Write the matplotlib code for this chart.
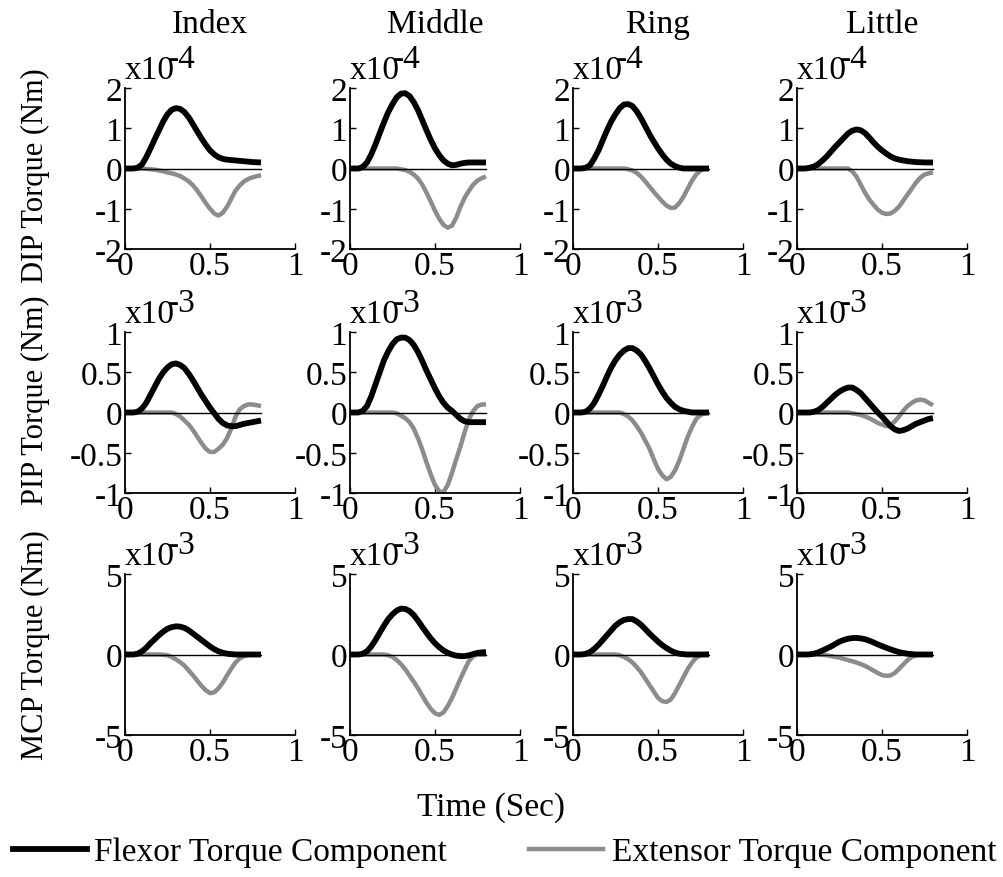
import matplotlib.pyplot as plt

plt.rcParams['font.family'] = 'Liberation Serif'
plt.rcParams['axes.unicode_minus'] = False

# time samples (sec)
time = [0, 0.025, 0.05, 0.075, 0.1, 0.125, 0.15, 0.175, 0.2, 0.225, 0.25, 0.275, 0.3,
        0.325, 0.35, 0.375, 0.4, 0.425, 0.45, 0.475, 0.5, 0.525, 0.55, 0.575, 0.6,
        0.625, 0.65, 0.675, 0.7, 0.725, 0.75, 0.775, 0.8]

fingers = ['Index', 'Middle', 'Ring', 'Little']
joints = ['DIP', 'PIP', 'MCP']
exponents = ['-4', '-3', '-3']
ylims = [2, 1, 5]
yticks = [[-2, -1, 0, 1, 2], [-1, -0.5, 0, 0.5, 1], [-5, 0, 5]]
ytick_labels = [['-2', '-1', '0', '1', '2'], ['-1', '-0.5', '0', '0.5', '1'], ['-5', '0', '5']]
xticks = [0, 0.5, 1]
xtick_labels = ['0', '0.5', '1']

# values in units of x10^-4 Nm (DIP) and x10^-3 Nm (PIP, MCP)
dip_flexor = [
    [0, 0, 0, 0.02, 0.1, 0.28, 0.5, 0.73, 0.95, 1.17, 1.35, 1.46, 1.5, 1.48, 1.4, 1.27, 1.1,
     0.92, 0.75, 0.59, 0.45, 0.35, 0.28, 0.24, 0.22, 0.21, 0.2, 0.19, 0.18, 0.17, 0.16, 0.155, 0.15],
    [0, 0, 0, 0.04, 0.15, 0.35, 0.6, 0.88, 1.15, 1.4, 1.6, 1.77, 1.86, 1.87, 1.8, 1.65, 1.45,
     1.2, 0.95, 0.71, 0.5, 0.33, 0.2, 0.12, 0.08, 0.09, 0.12, 0.14, 0.15, 0.15, 0.15, 0.15, 0.15],
    [0, 0, 0, 0.02, 0.08, 0.25, 0.45, 0.7, 0.95, 1.17, 1.35, 1.5, 1.59, 1.6, 1.55, 1.42, 1.25,
     1.05, 0.85, 0.67, 0.5, 0.35, 0.22, 0.12, 0.06, 0.02, 0, 0, 0, 0, 0, 0, 0],
    [0, 0, 0, 0.02, 0.05, 0.11, 0.2, 0.3, 0.42, 0.54, 0.65, 0.76, 0.87, 0.94, 0.97, 0.95, 0.88,
     0.77, 0.65, 0.54, 0.45, 0.37, 0.3, 0.25, 0.22, 0.2, 0.18, 0.17, 0.16, 0.155, 0.15, 0.15, 0.15],
]
dip_extensor = [
    [0, 0, 0, 0, 0, -0.01, -0.02, -0.03, -0.05, -0.07, -0.1, -0.12, -0.15, -0.19, -0.25, -0.32,
     -0.42, -0.55, -0.7, -0.86, -1.0, -1.12, -1.17, -1.1, -0.95, -0.75, -0.55, -0.42, -0.32,
     -0.26, -0.22, -0.19, -0.17],
    [0, 0, 0, 0, 0, 0, 0, 0, 0, 0, 0, 0, -0.02, -0.04, -0.08, -0.15, -0.25, -0.4, -0.6, -0.82,
     -1.05, -1.25, -1.4, -1.47, -1.42, -1.22, -0.95, -0.72, -0.55, -0.4, -0.3, -0.24, -0.2],
    [0, 0, 0, 0, 0, 0, 0, 0, 0, 0, 0, 0, 0, -0.02, -0.05, -0.11, -0.2, -0.32, -0.45, -0.58,
     -0.7, -0.82, -0.92, -0.98, -0.97, -0.86, -0.7, -0.5, -0.3, -0.15, -0.05, -0.01, 0],
    [0, 0, 0, 0, 0, 0, 0, 0, 0, 0, 0, 0, 0, -0.07, -0.2, -0.4, -0.6, -0.77, -0.9, -1.02, -1.1,
     -1.13, -1.12, -1.05, -0.95, -0.8, -0.65, -0.5, -0.35, -0.23, -0.15, -0.12, -0.1],
]
pip_flexor = [
    [0, 0, 0, 0.01, 0.05, 0.12, 0.22, 0.32, 0.42, 0.5, 0.56, 0.6, 0.61, 0.59, 0.55, 0.48, 0.4,
     0.31, 0.22, 0.14, 0.06, -0.01, -0.08, -0.13, -0.16, -0.17, -0.17, -0.155, -0.14, -0.13,
     -0.12, -0.11, -0.1],
    [0, 0, 0, 0.02, 0.08, 0.2, 0.35, 0.5, 0.65, 0.76, 0.85, 0.91, 0.93, 0.93, 0.9, 0.84, 0.75,
     0.64, 0.52, 0.41, 0.3, 0.2, 0.12, 0.06, 0.02, -0.03, -0.08, -0.11, -0.12, -0.12, -0.12,
     -0.12, -0.12],
    [0, 0, 0, 0.01, 0.05, 0.12, 0.22, 0.33, 0.45, 0.56, 0.65, 0.72, 0.77, 0.8, 0.8, 0.77, 0.72,
     0.64, 0.55, 0.45, 0.35, 0.26, 0.18, 0.12, 0.07, 0.04, 0.02, 0.01, 0, 0, 0, 0, 0],
    [0, 0, 0, 0, 0.01, 0.03, 0.07, 0.12, 0.17, 0.22, 0.26, 0.29, 0.31, 0.31, 0.28, 0.24, 0.18,
     0.12, 0.06, 0, -0.05, -0.11, -0.17, -0.21, -0.23, -0.22, -0.2, -0.17, -0.14, -0.12, -0.1,
     -0.08, -0.07],
]
pip_extensor = [
    [0, 0, 0, 0, 0, 0, 0, 0, 0, 0, 0, 0, -0.02, -0.05, -0.1, -0.15, -0.22, -0.3, -0.38, -0.45,
     -0.49, -0.49, -0.45, -0.4, -0.32, -0.2, -0.05, 0.04, 0.08, 0.1, 0.1, 0.09, 0.08],
    [0, 0, 0, 0, 0, 0, 0, 0, 0, 0, 0, -0.01, -0.04, -0.07, -0.12, -0.2, -0.32, -0.46, -0.62,
     -0.77, -0.9, -0.98, -0.99, -0.9, -0.75, -0.58, -0.42, -0.24, -0.08, 0.02, 0.08, 0.1, 0.1],
    [0, 0, 0, 0, 0, 0, 0, 0, 0, 0, 0, 0, -0.02, -0.05, -0.1, -0.17, -0.25, -0.35, -0.45, -0.58,
     -0.7, -0.78, -0.83, -0.8, -0.72, -0.6, -0.45, -0.3, -0.18, -0.08, -0.03, -0.01, 0],
    [0, 0, 0, 0, 0, 0, 0, 0, 0, 0, 0, 0, 0, -0.01, -0.02, -0.03, -0.05, -0.07, -0.1, -0.13,
     -0.15, -0.17, -0.16, -0.11, -0.05, 0.02, 0.08, 0.12, 0.15, 0.16, 0.15, 0.12, 0.09],
]
mcp_flexor = [
    [0, 0, 0, 0.05, 0.2, 0.42, 0.7, 0.95, 1.2, 1.42, 1.6, 1.7, 1.75, 1.73, 1.65, 1.5, 1.3, 1.1,
     0.9, 0.7, 0.5, 0.33, 0.2, 0.11, 0.05, 0.02, 0, 0, 0, 0, 0, 0, 0],
    [0, 0, 0, 0.05, 0.2, 0.5, 0.9, 1.35, 1.8, 2.2, 2.5, 2.73, 2.85, 2.83, 2.7, 2.45, 2.1, 1.72,
     1.35, 1.0, 0.7, 0.45, 0.25, 0.1, 0, -0.07, -0.1, -0.1, -0.05, 0.03, 0.1, 0.13, 0.15],
    [0, 0, 0, 0.04, 0.15, 0.35, 0.6, 0.9, 1.2, 1.5, 1.8, 2.0, 2.15, 2.2, 2.2, 2.05, 1.85, 1.58,
     1.3, 1.05, 0.8, 0.58, 0.4, 0.24, 0.12, 0.05, 0.02, 0, 0, 0, 0, 0, 0],
    [0, 0, 0, 0.01, 0.05, 0.13, 0.25, 0.37, 0.5, 0.65, 0.8, 0.9, 0.98, 1.02, 1.03, 1.0, 0.95,
     0.86, 0.75, 0.63, 0.52, 0.42, 0.32, 0.23, 0.15, 0.09, 0.05, 0.02, 0, 0, 0, 0, 0],
]
mcp_extensor = [
    [0, 0, 0, 0, 0, 0, 0, 0, 0, -0.02, -0.05, -0.15, -0.3, -0.48, -0.7, -1.0, -1.3, -1.62,
     -1.95, -2.22, -2.4, -2.35, -2.1, -1.75, -1.3, -0.88, -0.5, -0.25, -0.1, -0.03, 0, 0, 0],
    [0, 0, 0, 0, 0, 0, 0, 0, 0, -0.05, -0.15, -0.35, -0.6, -0.92, -1.3, -1.7, -2.1, -2.55,
     -3.0, -3.38, -3.65, -3.75, -3.6, -3.2, -2.7, -2.1, -1.5, -0.92, -0.4, -0.1, 0, 0, 0],
    [0, 0, 0, 0, 0, 0, 0, 0, 0, 0, 0, -0.05, -0.15, -0.3, -0.5, -0.78, -1.1, -1.5, -1.9, -2.3,
     -2.7, -2.9, -2.95, -2.8, -2.4, -1.9, -1.4, -0.9, -0.5, -0.2, -0.05, 0.03, 0.05],
    [0, 0, 0, 0, 0, -0.01, -0.02, -0.05, -0.1, -0.15, -0.2, -0.27, -0.35, -0.42, -0.5, -0.6,
     -0.7, -0.85, -1.0, -1.15, -1.28, -1.32, -1.3, -1.15, -0.9, -0.62, -0.35, -0.15, -0.05, 0,
     0, 0, 0],
]

flexor = [dip_flexor, pip_flexor, mcp_flexor]
extensor = [dip_extensor, pip_extensor, mcp_extensor]

W, H = 1004, 878
fig = plt.figure(figsize=(W / 100, H / 100), dpi=100)

col_left = [125, 350, 573, 797]
row_top = [89, 333, 575]
ax_w, ax_h = 170, 161
fs = 24
grey = '#8c8c8c'

for r in range(3):
    for c in range(4):
        ax = fig.add_axes([col_left[c] / W, 1 - (row_top[r] + ax_h) / H, ax_w / W, ax_h / H])
        ax.plot(time, extensor[r][c], color=grey, lw=3.2, solid_capstyle='butt')
        ax.plot(time, flexor[r][c], color='black', lw=4.2, solid_capstyle='butt')
        ax.plot([time[0], time[-1]], [0, 0], color='black', lw=1)
        ax.set_xlim(0, 1)
        ax.set_ylim(-ylims[r], ylims[r])
        ax.set_xticks(xticks)
        ax.set_xticklabels(xtick_labels)
        ax.set_yticks(yticks[r])
        ax.set_yticklabels(ytick_labels[r])
        ax.tick_params(direction='in', length=4, width=1, labelsize=fs, pad=2)
        ax.tick_params(axis='x', pad=1)
        for side in ['top', 'right']:
            ax.spines[side].set_visible(False)
        for side in ['left', 'bottom']:
            ax.spines[side].set_linewidth(1.3)
        ax.patch.set_alpha(0)
        # scale factor written above each panel
        ax.annotate('x10', xy=(0, 1), xycoords='axes fraction', xytext=(0, 7),
                    textcoords='offset points', fontsize=fs, ha='left', va='baseline',
                    annotation_clip=False)
        ax.annotate(exponents[r], xy=(0, 1), xycoords='axes fraction', xytext=(31, 15),
                    textcoords='offset points', fontsize=fs, ha='left', va='baseline',
                    annotation_clip=False)

for c in range(4):
    fig.text((col_left[c] + ax_w / 2) / W, 1 - 25 / H, fingers[c],
             ha='center', va='center', fontsize=fs)

label_y = [176, 400, 645]
for r in range(3):
    fig.text(35 / W, 1 - label_y[r] / H, joints[r] + ' Torque (Nm)', rotation=90,
             ha='center', va='center', fontsize=22)

fig.text(491 / W, 1 - 808 / H, 'Time (Sec)', ha='center', va='center', fontsize=fs)

# legend
fig.add_artist(plt.Line2D([13 / W, 87 / W], [1 - 850 / H, 1 - 850 / H], color='black', lw=4.2))
fig.text(94 / W, 1 - 853 / H, 'Flexor Torque Component', ha='left', va='center', fontsize=fs)
fig.add_artist(plt.Line2D([529 / W, 603 / W], [1 - 850 / H, 1 - 850 / H], color=grey, lw=3.2))
fig.text(612 / W, 1 - 853 / H, 'Extensor Torque Component', ha='left', va='center', fontsize=fs)

fig.savefig('out.png', dpi=100)
